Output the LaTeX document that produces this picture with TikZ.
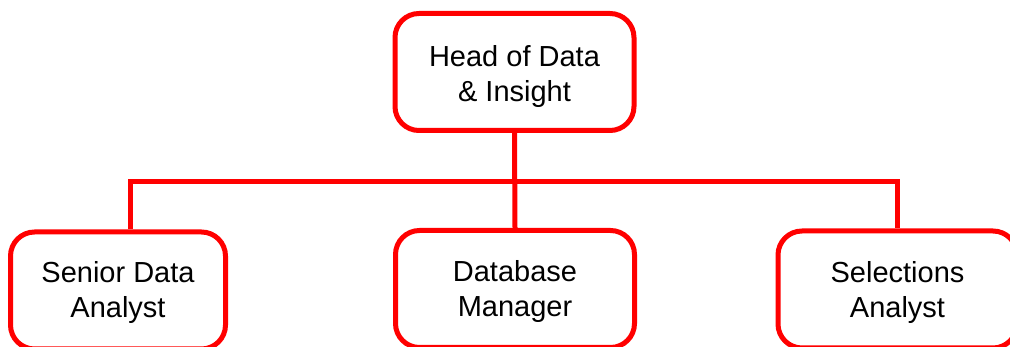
\documentclass[tikz,border=0pt]{standalone}
\usepackage{fontspec}
\setmainfont{Liberation Sans}
\begin{document}
\begin{tikzpicture}[x=1pt,y=-1pt,
  rolebox/.style={draw=red, line width=5pt, rounded corners=24pt, fill=white,
    minimum width=239pt, minimum height=117pt, inner sep=0pt},
  rolelabel/.style={align=center, inner sep=0pt,
    font=\fontsize{29}{35}\selectfont, text=black},
  link/.style={draw=red, line width=5pt}]
\useasboundingbox (0,0) rectangle (1010,347);
\clip (0,0) rectangle (1010,347);
\fill[white] (0,0) rectangle (1010,347);
\node[rolebox] (head) at (514.5,72) {};
\node[rolebox, minimum width=215pt] (senior) at (118,290.5) {};
\node[rolebox] (dbm) at (515,289) {};
\node[rolebox] (sel) at (897.5,289.5) {};
\node[rolelabel] (headt) at ([yshift=-4.5pt]head.center) {Head of Data\\\& Insight};
\node[rolelabel] (seniort) at ([yshift=-2.5pt]senior.center) {Senior Data\\Analyst};
\node[rolelabel] (dbmt) at ([yshift=-3pt]dbm.center) {Database\\Manager};
\node[rolelabel] (selt) at ([yshift=-3pt]sel.center) {Selections\\Analyst};
\coordinate (bus) at (515,182);
\draw[link] (head.south) -- (dbm.north);
\draw[link] ([xshift=12pt]senior.north) |- (bus) -| (sel.north);
\end{tikzpicture}
\end{document}
